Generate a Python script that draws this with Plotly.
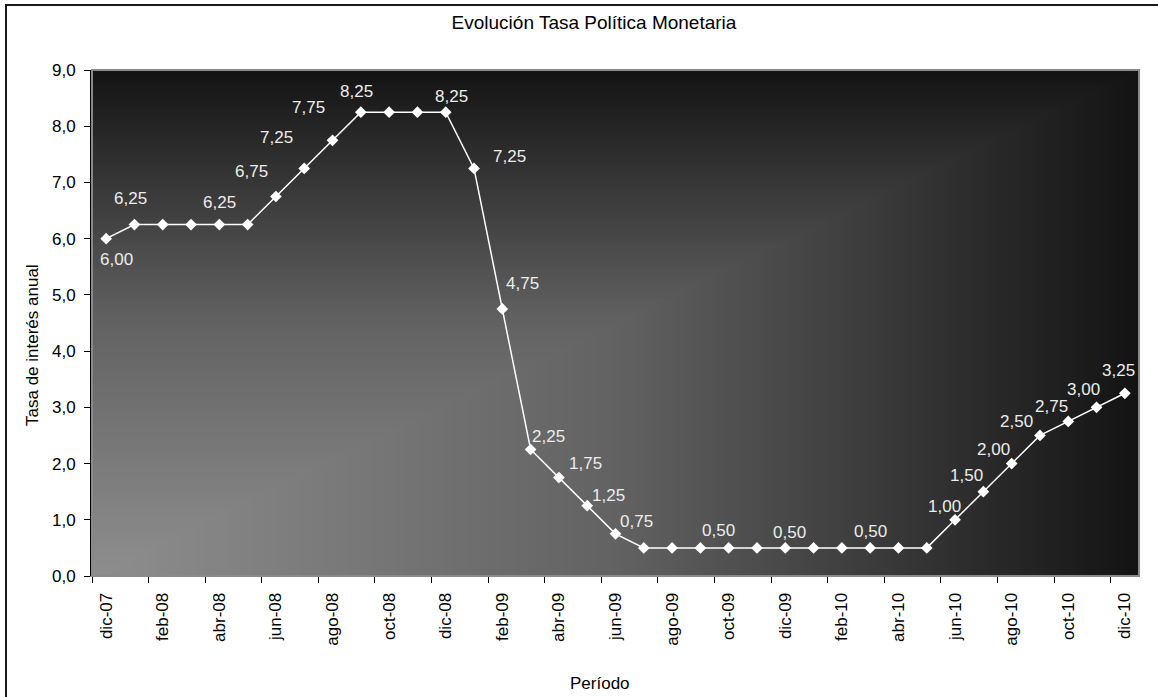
import numpy as np
import plotly.graph_objects as go

# Monthly policy-rate series, Dec 2007 - Dec 2010
months = ["dic-07", "ene-08", "feb-08", "mar-08", "abr-08", "may-08", "jun-08",
          "jul-08", "ago-08", "sep-08", "oct-08", "nov-08", "dic-08", "ene-09",
          "feb-09", "mar-09", "abr-09", "may-09", "jun-09", "jul-09", "ago-09",
          "sep-09", "oct-09", "nov-09", "dic-09", "ene-10", "feb-10", "mar-10",
          "abr-10", "may-10", "jun-10", "jul-10", "ago-10", "sep-10", "oct-10",
          "nov-10", "dic-10"]
rates = [6.00, 6.25, 6.25, 6.25, 6.25, 6.25, 6.75, 7.25, 7.75, 8.25, 8.25, 8.25,
         8.25, 7.25, 4.75, 2.25, 1.75, 1.25, 0.75, 0.50, 0.50, 0.50, 0.50, 0.50,
         0.50, 0.50, 0.50, 0.50, 0.50, 0.50, 1.00, 1.50, 2.00, 2.50, 2.75, 3.00,
         3.25]

# Which points carry a value label, and the pixel offset of each label
label_offsets = {
    0: (10, 21), 1: (-4, -26), 4: (0, -22), 6: (-24, -25), 7: (-28, -31),
    8: (-24, -33), 9: (-4, -21), 12: (6, -16), 13: (35, -12), 14: (20, -25),
    15: (18, -13), 16: (27, -14), 17: (21, -10), 18: (21, -12), 22: (-10, -17),
    24: (4, -15), 27: (0, -16), 30: (-11, -13), 31: (-17, -16), 32: (-18, -14),
    33: (-23, -14), 34: (-17, -15), 35: (-13, -18), 36: (-6, -23),
}

idx = list(range(len(months)))
n = len(months)
FONT = "Liberation Sans, Arial, sans-serif"
FS = 17

# Plot-area background: "from corner" grey gradient (light at bottom-left)
gx = np.linspace(-0.5, n - 0.5, 240)
gy = np.linspace(0, 9, 140)
u = (gx + 0.5) / n
v = gy / 9.0
shade = np.maximum(u[None, :], v[:, None])

fig = go.Figure()
fig.add_trace(go.Heatmap(
    x=gx, y=gy, z=shade, zmin=0, zmax=1, showscale=False, hoverinfo="skip",
    colorscale=[[0, "#8e8e8e"], [0.5, "#626262"], [1, "#131313"]],
))
fig.add_trace(go.Scatter(
    x=idx, y=rates, mode="lines+markers",
    line=dict(color="white", width=1.5),
    marker=dict(symbol="diamond", size=9, color="white"),
    hoverinfo="skip",
))

annotations = []
for i, (dx, dy) in label_offsets.items():
    annotations.append(dict(
        x=i, y=rates[i], xref="x", yref="y", showarrow=False,
        text=f"{rates[i]:.2f}".replace(".", ","),
        xshift=dx, yshift=-dy, xanchor="center", yanchor="middle",
        font=dict(family=FONT, size=FS, color="#ececec"),
    ))

W, H = 1158, 697
L, R, T, B = 92, 19, 70, 121
pw, ph = W - L - R, H - T - B

def px_x(p):
    return (p - L) / pw

def px_y(p):
    return (H - B - p) / ph

annotations.append(dict(
    text="Tasa de interés anual", xref="paper", yref="paper",
    x=px_x(32), y=px_y(345), textangle=-90, showarrow=False,
    xanchor="center", yanchor="middle",
    font=dict(family=FONT, size=FS, color="black"),
))
annotations.append(dict(
    text="Período", xref="paper", yref="paper",
    x=px_x(600), y=px_y(683), showarrow=False,
    xanchor="center", yanchor="middle",
    font=dict(family=FONT, size=FS, color="black"),
))

shapes = [
    # plot-area frame
    dict(type="rect", xref="paper", yref="paper", x0=0, y0=0, x1=1, y1=1,
         line=dict(color="#8a8a8a", width=2), layer="above"),
    # outer chart frame
    dict(type="rect", xref="paper", yref="paper",
         x0=px_x(6), y0=px_y(710), x1=px_x(1170), y1=px_y(5),
         line=dict(color="#1a1a1a", width=2)),
]

fig.update_layout(
    width=W, height=H,
    margin=dict(l=L, r=R, t=T, b=B),
    paper_bgcolor="white", plot_bgcolor="white",
    separators=",.",
    showlegend=False,
    title=dict(text="Evolución Tasa Política Monetaria", x=594 / W, y=1 - 22 / H,
               xref="container", yref="container", xanchor="center", yanchor="middle",
               font=dict(family=FONT, size=19, color="black")),
    annotations=annotations,
    shapes=shapes,
    font=dict(family=FONT, size=FS, color="black"),
)
fig.update_xaxes(
    range=[-0.5, n - 0.5], showgrid=False, zeroline=False,
    tickmode="array", tickvals=idx[::2], ticktext=months[::2],
    tickangle=-90, ticks="", ticklabelstandoff=9,
    tickfont=dict(family=FONT, size=FS, color="black"),
    showline=True, linecolor="#8a8a8a", linewidth=1,
    minor=dict(tickmode="array", tickvals=[i - 0.5 for i in idx[::2]],
               ticks="outside", ticklen=6, tickcolor="black", tickwidth=1,
               showgrid=False),
)
fig.update_yaxes(
    range=[0, 9], tickmode="linear", tick0=0, dtick=1, tickformat=".1f",
    showgrid=False, zeroline=False, ticks="outside", ticklen=6,
    ticklabelstandoff=5,
    tickcolor="black", showline=True, linecolor="black", linewidth=2,
    tickfont=dict(family=FONT, size=FS, color="black"),
)

fig.write_html("out.html")
